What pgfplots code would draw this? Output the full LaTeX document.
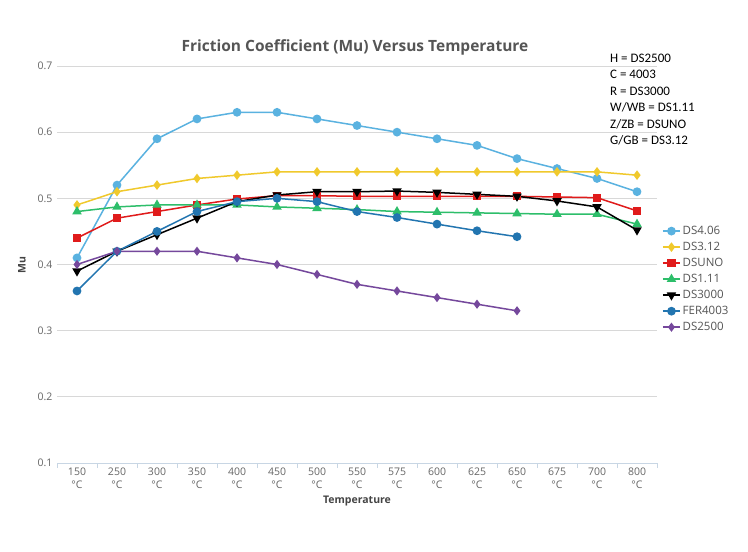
\documentclass[border=0pt]{standalone}
\usepackage{fontspec}
\setmainfont{Open Sans}
\newfontfamily\calib{Carlito}
\usepackage{pgfplots}
\pgfplotsset{compat=1.18}
\definecolor{cDSfour}{HTML}{5AB2E0}
\definecolor{cDSthree}{HTML}{F0C92C}
\definecolor{cUNO}{HTML}{E01B1B}
\definecolor{cDSone}{HTML}{2DBE6A}
\definecolor{cFER}{HTML}{2275B0}
\definecolor{cDStwo}{HTML}{75489C}
\definecolor{gridc}{HTML}{D8D8D8}
\definecolor{axisc}{HTML}{C8D6E4}
\definecolor{titlec}{HTML}{555555}
\definecolor{tickc}{HTML}{666666}
\begin{document}
\begin{tikzpicture}[x=1bp,y=1bp]
\path[fill=white] (0,0) rectangle (748,552);
\begin{axis}[
  at={(57bp,89bp)}, anchor=south west,
  scale only axis, width=600bp, height=397bp,
  xmin=-0.5, xmax=14.5, ymin=0.1, ymax=0.7,
  ytick={0.1,0.2,...,0.7},
  xtick={0,...,14},
  xticklabels={{150\\°C},{250\\°C},{300\\°C},{350\\°C},{400\\°C},{450\\°C},{500\\°C},{550\\°C},{575\\°C},{600\\°C},{625\\°C},{650\\°C},{675\\°C},{700\\°C},{800\\°C}},
  minor xtick={-0.5,0.5,...,14.5},
  major tick length=0pt, minor tick length=5bp,
  tick align=outside,
  axis x line*=bottom, axis y line*=left,
  x axis line style={draw=axisc, line width=0.8bp},
  y axis line style={draw=none},
  every minor tick/.style={draw=axisc, line width=0.8bp},
  ymajorgrids, major grid style={draw=gridc, line width=0.8bp},
  /pgf/number format/assume math mode=true,
  /pgf/number format/fixed, /pgf/number format/precision=1, /pgf/number format/fixed zerofill,
  xticklabel style={align=center, font=\fontsize{10.5bp}{13.5bp}\selectfont, text=tickc, yshift=-1bp},
  yticklabel style={font=\fontsize{10.5bp}{12bp}\selectfont, text=tickc, xshift=-1bp},
  legend style={draw=none, fill=none, at={(1.0,0.6045)}, anchor=north west, xshift=4bp,
    font=\fontsize{11.5bp}{13bp}\selectfont, text=titlec, row sep=2.2bp, inner sep=1bp},
  legend cell align=left,
  legend image post style={line width=1.5bp},
  every axis plot/.append style={line width=1.5bp},
  clip=false,
]
\addplot[color=cDSfour, mark=*, mark size=3.6bp] coordinates {
(0,0.41) (1,0.52) (2,0.59) (3,0.62) (4,0.63) (5,0.63) (6,0.62) (7,0.61) (8,0.60) (9,0.59) (10,0.58) (11,0.56) (12,0.545) (13,0.53) (14,0.51)};
\addlegendentry{DS4.06}
\addplot[color=cDSthree, mark=diamond*, mark size=3.6bp] coordinates {
(0,0.49) (1,0.51) (2,0.52) (3,0.53) (4,0.535) (5,0.54) (6,0.54) (7,0.54) (8,0.54) (9,0.54) (10,0.54) (11,0.54) (12,0.54) (13,0.54) (14,0.535)};
\addlegendentry{DS3.12}
\addplot[color=cUNO, mark=square*, mark size=3.4bp] coordinates {
(0,0.44) (1,0.47) (2,0.48) (3,0.49) (4,0.499) (5,0.504) (6,0.504) (7,0.503) (8,0.503) (9,0.503) (10,0.503) (11,0.503) (12,0.502) (13,0.501) (14,0.481)};
\addlegendentry{DSUNO}
\addplot[color=cDSone, mark=triangle*, mark size=4bp] coordinates {
(0,0.48) (1,0.487) (2,0.49) (3,0.49) (4,0.49) (5,0.487) (6,0.485) (7,0.483) (8,0.48) (9,0.479) (10,0.478) (11,0.477) (12,0.476) (13,0.476) (14,0.461)};
\addlegendentry{DS1.11}
\addplot[color=black, mark=triangle*, mark options={rotate=180}, mark size=4bp] coordinates {
(0,0.39) (1,0.42) (2,0.445) (3,0.47) (4,0.495) (5,0.505) (6,0.51) (7,0.51) (8,0.511) (9,0.509) (10,0.506) (11,0.503) (12,0.496) (13,0.487) (14,0.452)};
\addlegendentry{DS3000}
\addplot[color=cFER, mark=*, mark size=3.6bp] coordinates {
(0,0.36) (1,0.42) (2,0.45) (3,0.48) (4,0.495) (5,0.50) (6,0.495) (7,0.48) (8,0.471) (9,0.461) (10,0.451) (11,0.442)};
\addlegendentry{FER4003}
\addplot[color=cDStwo, mark=diamond*, mark size=3.4bp] coordinates {
(0,0.40) (1,0.42) (2,0.42) (3,0.42) (4,0.41) (5,0.40) (6,0.385) (7,0.37) (8,0.36) (9,0.35) (10,0.34) (11,0.33)};
\addlegendentry{DS2500}
\end{axis}
\node[font=\fontsize{15.5bp}{18bp}\selectfont\bfseries, text=titlec] at (355,505) {Friction Coefficient (Mu) Versus Temperature};
\node[font=\fontsize{10.5bp}{12bp}\selectfont\bfseries, text=titlec!80!black, rotate=90] at (22,287) {Mu};
\node[font=\fontsize{10.5bp}{12bp}\selectfont\bfseries, text=titlec!80!black] at (357,51) {Temperature};
\node[anchor=north west, align=left, inner sep=0pt, font=\calib\fontsize{13bp}{16.5bp}\selectfont] at (610,498.5) {H = DS2500\\C = 4003\\R = DS3000\\W/WB = DS1.11\\Z/ZB = DSUNO\\G/GB = DS3.12};
\end{tikzpicture}
\end{document}
